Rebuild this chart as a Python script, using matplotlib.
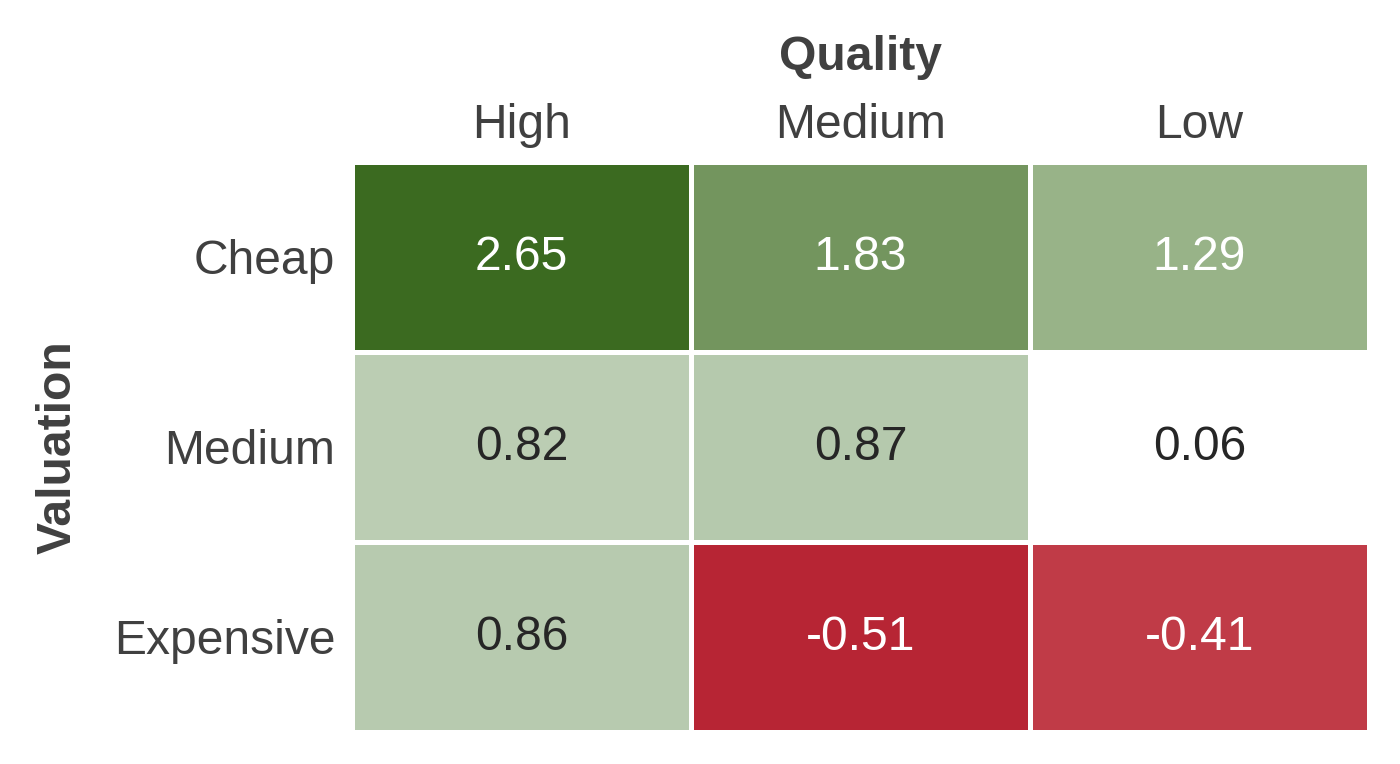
import numpy as np
import matplotlib
matplotlib.use("Agg")
import matplotlib.pyplot as plt
from matplotlib.colors import LinearSegmentedColormap, TwoSlopeNorm

# ---------------------------
# Data
# ---------------------------
QUALITY = ["High", "Medium", "Low"]
VALUATION = ["Cheap", "Medium", "Expensive"]
VALUES = [
    [2.65, 1.83, 1.29],
    [0.82, 0.87, 0.06],
    [0.86, -0.51, -0.41],
]

TEXT_COLOR = "#404040"
VMIN, VMAX = -0.55, 2.65
FS = 17.3

plt.rcParams["font.family"] = ["Liberation Sans", "DejaVu Sans"]


def _make_cmap():
    # red side (vmin -> 0) takes the lower half, green side the upper half
    nodes = [
        (0.00, "#b31d2d"),
        (0.12, "#bf3844"),
        (0.50, "#ffffff"),
        (0.52, "#ffffff"),
        (0.66, "#b8cbb0"),
        (0.745, "#98b388"),
        (0.845, "#74965f"),
        (1.00, "#3b6a20"),
    ]
    return LinearSegmentedColormap.from_list("val_quality", nodes)


def main():
    data = np.array(VALUES)
    cmap = _make_cmap()
    norm = TwoSlopeNorm(vmin=VMIN, vcenter=0.0, vmax=VMAX)

    fig = plt.figure(figsize=(7, 3.82), dpi=200)
    ax = fig.add_axes([352 / 1400, 1 - 732 / 764, (1369 - 352) / 1400, (732 - 162) / 764])

    ax.pcolormesh(data, cmap=cmap, norm=norm, edgecolors="white", linewidth=1.1)
    ax.set_xlim(0, data.shape[1])
    ax.set_ylim(data.shape[0], 0)

    for i in range(data.shape[0]):
        for j in range(data.shape[1]):
            v = data[i, j]
            light = 0 <= v < 1.0
            ax.text(j + 0.5, i + 0.5, f"{v:.2f}", ha="center", va="center",
                    fontsize=FS, color="#262626" if light else "white")

    ax.xaxis.tick_top()
    ax.xaxis.set_label_position("top")
    ax.set_xticks(np.arange(len(QUALITY)) + 0.5)
    ax.set_xticklabels(QUALITY)
    ax.set_yticks(np.arange(len(VALUATION)) + 0.5)
    ax.set_yticklabels(VALUATION)
    ax.tick_params(axis="both", length=0, labelsize=FS, labelcolor=TEXT_COLOR)
    ax.tick_params(axis="x", pad=5)
    ax.tick_params(axis="y", pad=6)

    ax.set_xlabel("Quality", fontsize=FS, fontweight="bold", color=TEXT_COLOR, labelpad=12)
    ax.set_ylabel("Valuation", fontsize=FS, fontweight="bold", color=TEXT_COLOR, labelpad=12)

    for s in ax.spines.values():
        s.set_visible(False)

    fig.savefig("out.png", dpi=200)


if __name__ == "__main__":
    main()
